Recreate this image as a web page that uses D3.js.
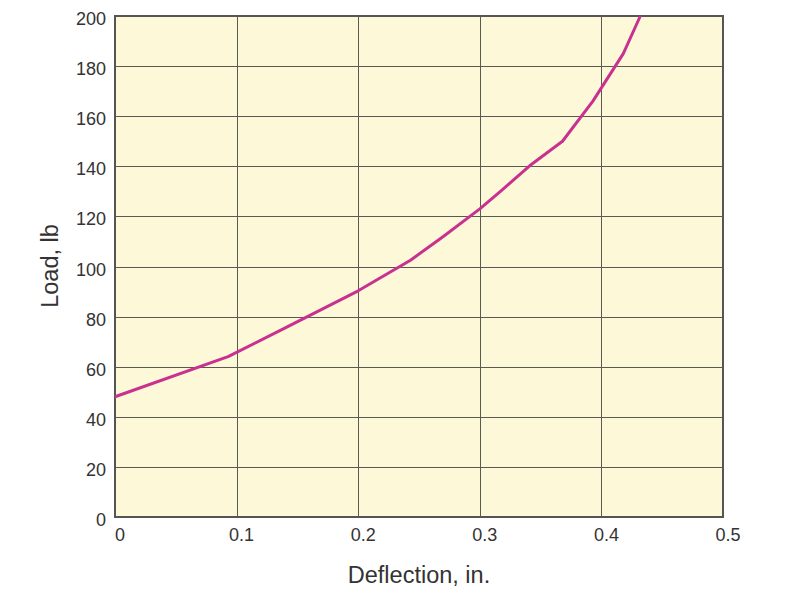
<!DOCTYPE html>
<html><head><meta charset="utf-8">
<script src="https://cdn.jsdelivr.net/npm/d3@7"></script>
<style>body{margin:0;background:#fff}svg{display:block}text{font-family:"Liberation Sans",Arial,sans-serif;fill:#333}</style>
</head><body><svg id="c" width="800" height="599"></svg>
<script>
const deflection = [0, 0.093, 0.14, 0.2, 0.243, 0.27, 0.3, 0.317, 0.341, 0.368, 0.393, 0.418, 0.432];
const load = [48, 64, 75.5, 90.3, 102.5, 112, 123, 130, 140.2, 150, 166, 185, 200];
const xTicks = [0, 0.1, 0.2, 0.3, 0.4, 0.5];
const yTicks = [0, 20, 40, 60, 80, 100, 120, 140, 160, 180, 200];

const svg = d3.select("#c");
const m = {l:115, r:723, t:16, b:517};
const x = d3.scaleLinear().domain([0,0.5]).range([m.l, m.r]);
const y = d3.scaleLinear().domain([0,200]).range([m.b, m.t]);

svg.append("rect").attr("x",m.l).attr("y",m.t).attr("width",m.r-m.l).attr("height",m.b-m.t).attr("fill","#FDF9D8");

const grid = svg.append("g").attr("stroke","#5a5a55").attr("stroke-width",1);
xTicks.slice(1,-1).forEach(t=>grid.append("line").attr("x1",Math.round(x(t))+0.5).attr("x2",Math.round(x(t))+0.5).attr("y1",m.t).attr("y2",m.b));
yTicks.slice(1,-1).forEach(t=>grid.append("line").attr("y1",Math.round(y(t))+0.5).attr("y2",Math.round(y(t))+0.5).attr("x1",m.l).attr("x2",m.r));

svg.append("rect").attr("x",m.l).attr("y",m.t).attr("width",m.r-m.l).attr("height",m.b-m.t).attr("fill","none").attr("stroke","#555").attr("stroke-width",2);

const data = deflection.map((d,i)=>[d, load[i]]);
svg.append("path").datum(data)
  .attr("d", d3.line().x(d=>x(d[0])).y(d=>y(d[1])))
  .attr("fill","none").attr("stroke","#C8318F").attr("stroke-width",3).attr("stroke-linejoin","round");

const xa = svg.append("g");
xTicks.forEach(t=>xa.append("text").attr("x",x(t)+5).attr("y",541).attr("text-anchor","middle").attr("font-size",18).text(t===0?"0":d3.format(".1f")(t)));
const ya = svg.append("g");
yTicks.forEach(t=>ya.append("text").attr("x",106).attr("y",y(t)+9).attr("text-anchor","end").attr("font-size",18).text(t));

svg.append("text").attr("x",419).attr("y",583).attr("text-anchor","middle").attr("font-size",23.5).text("Deflection, in.");
svg.append("text").attr("transform","translate(58,266) rotate(-90)").attr("text-anchor","middle").attr("font-size",23.5).text("Load, lb");
</script></body></html>
